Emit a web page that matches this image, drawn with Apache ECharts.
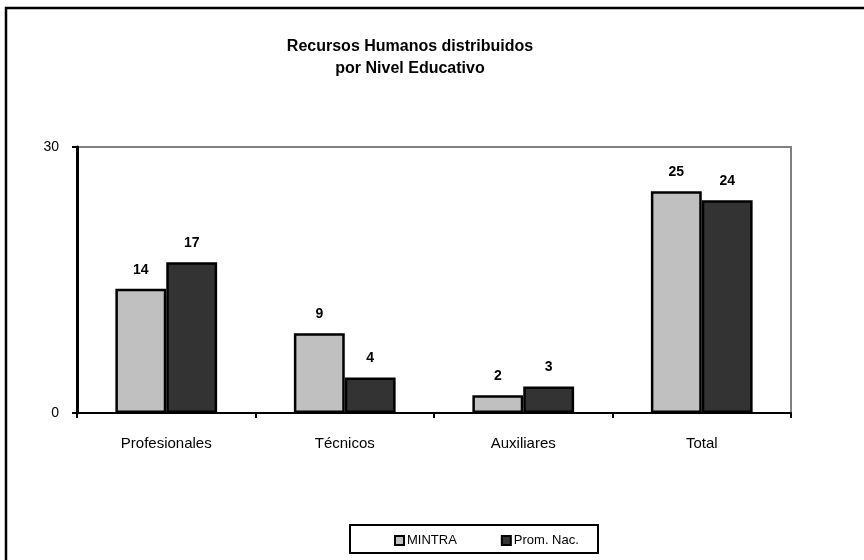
<!DOCTYPE html>
<html><head><meta charset="utf-8">
<script src="https://cdn.jsdelivr.net/npm/echarts@6/dist/echarts.min.js"></script>
<style>html,body{margin:0;padding:0;background:#fff}#c{width:864px;height:560px}</style>
</head><body><div id="c"></div>
<script>
const categories = ['Profesionales', 'Técnicos', 'Auxiliares', 'Total'];
const mintra = [14, 9, 2, 25];
const promNac = [17, 4, 3, 24];
const yTicks = [0, 30];
const FONT = "'Liberation Sans Narrow', 'Arial Narrow', 'Liberation Sans', sans-serif";

const chart = echarts.init(document.getElementById('c'));
chart.setOption({
  animation: false,
  backgroundColor: '#fff',
  title: {
    text: 'Recursos Humanos distribuidos\npor Nivel Educativo',
    left: 405, top: 31, textAlign: 'center',
    textStyle: { fontFamily: FONT, fontSize: 16, fontWeight: 'bold', color: '#000', lineHeight: 22 }
  },
  graphic: [
    { type: 'rect', shape: { x: 6, y: 8, width: 870, height: 570 }, style: { fill: 'none', stroke: '#000', lineWidth: 2.5 }, z: 100 },
    { type: 'rect', shape: { x: 350, y: 525, width: 248, height: 28 }, style: { fill: '#fff', stroke: '#000', lineWidth: 2 }, z: 0 }
  ],
  legend: {
    top: 529, left: 389, itemWidth: 9, itemHeight: 9, itemGap: 44, icon: 'rect',
    textStyle: { fontFamily: FONT, fontSize: 13, color: '#000', padding: [0, 0, 0, -2] },
    itemStyle: { borderColor: '#000', borderWidth: 2 },
    data: ['MINTRA', 'Prom. Nac.']
  },
  grid: { left: 77, top: 147, right: 73, bottom: 147, show: true, borderColor: '#808080', borderWidth: 2, backgroundColor: 'transparent' },
  xAxis: {
    type: 'category', data: categories,
    axisLine: { lineStyle: { color: '#000', width: 2 } },
    axisTick: { show: true, length: 5, lineStyle: { color: '#000', width: 2 } },
    axisLabel: { fontFamily: FONT, fontSize: 15, color: '#000', margin: 23 },
    splitLine: { show: false }
  },
  yAxis: {
    type: 'value', min: yTicks[0], max: yTicks[yTicks.length - 1], interval: 30,
    axisLine: { show: true, lineStyle: { color: '#000', width: 3 } },
    axisTick: { show: true, length: 5, lineStyle: { color: '#000', width: 2 } },
    axisLabel: { fontFamily: FONT, fontSize: 14, color: '#000', margin: 18 },
    splitLine: { show: false }
  },
  series: [
    {
      name: 'MINTRA', type: 'bar', data: mintra, barGap: '0%', barCategoryGap: '43%',
      itemStyle: { color: '#c0c0c0', borderColor: '#000', borderWidth: 2.5 },
      label: { show: true, position: 'top', distance: 12, fontFamily: FONT, fontSize: 14, fontWeight: 'bold', color: '#000' }
    },
    {
      name: 'Prom. Nac.', type: 'bar', data: promNac,
      itemStyle: { color: '#333333', borderColor: '#000', borderWidth: 2.5 },
      label: { show: true, position: 'top', distance: 12, fontFamily: FONT, fontSize: 14, fontWeight: 'bold', color: '#000' }
    }
  ]
});
</script></body></html>
